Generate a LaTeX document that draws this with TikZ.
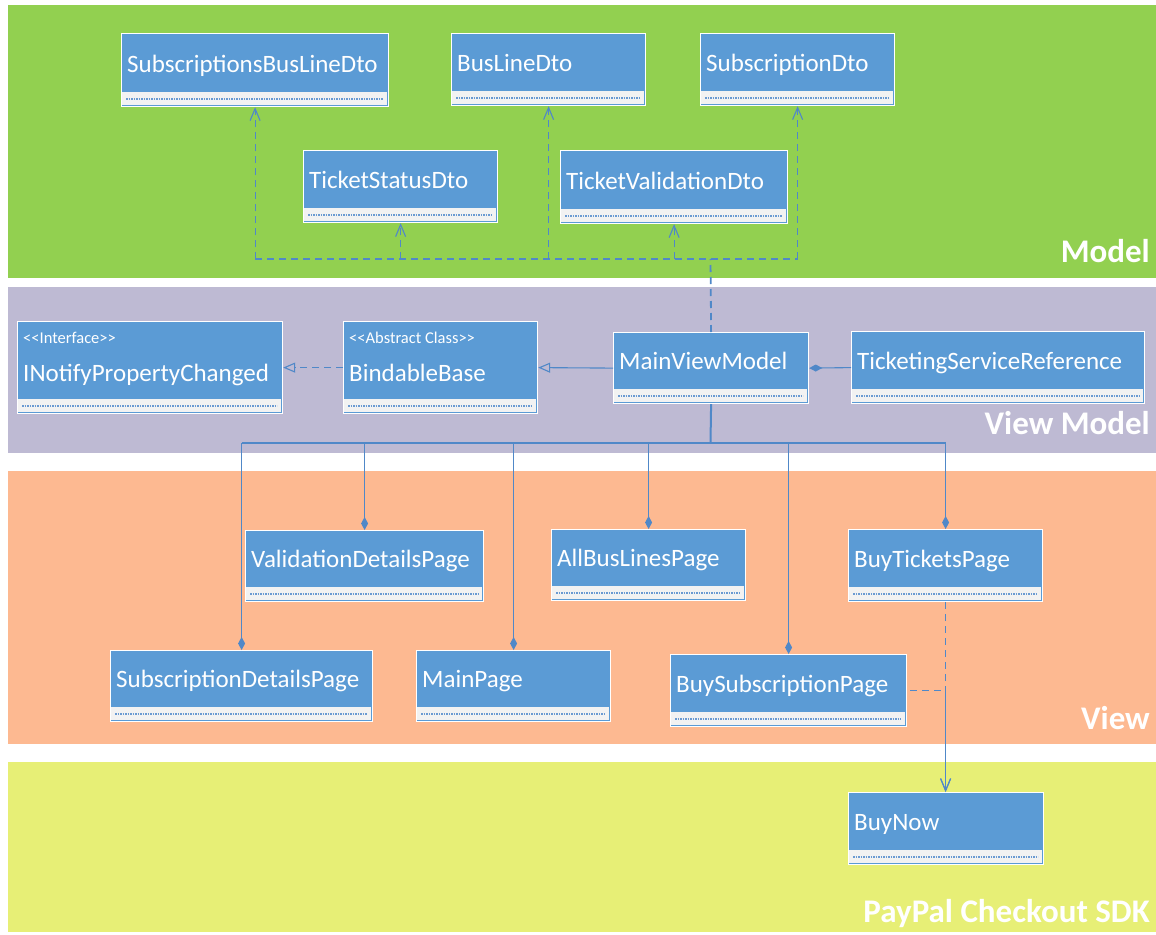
\documentclass[tikz,border=0pt]{standalone}
\usepackage{fontspec}
\newfontfamily\uml{Carlito}
\usetikzlibrary{arrows.meta}
\definecolor{modelc}{HTML}{92D050}
\definecolor{vmc}{HTML}{BEBAD3}
\definecolor{viewc}{HTML}{FDB991}
\definecolor{ppc}{HTML}{E7EF76}
\definecolor{clsblue}{HTML}{5B9BD5}
\definecolor{cmpgray}{HTML}{F2F2F2}
\definecolor{linec}{HTML}{5088C8}
\definecolor{dotc}{HTML}{6A9AD2}
\tikzset{
  layerlbl/.style={anchor=base east, inner sep=0, text=white, font=\uml\bfseries\fontsize{33}{33}\selectfont},
  clsbox/.style={draw=white, line width=1.2pt, fill=clsblue, inner sep=0},
  clsname/.style={anchor=base west, inner sep=0, text=white, font=\uml\fontsize{25}{25}\selectfont},
  stereo/.style={anchor=base west, inner sep=0, text=white, font=\uml\fontsize{16.5}{16.5}\selectfont},
  dotrule/.style={draw=dotc, line width=1.1pt, dash pattern=on 1.6pt off 0.9pt},
  conn/.style={draw=linec, line width=1.1pt},
  connthick/.style={draw=linec, line width=2pt},
  dashconn/.style={conn, dash pattern=on 7pt off 5pt},
  dep/.style={dashconn, -{Straight Barb[length=12pt,width=10pt,line width=1.1pt]}},
  real/.style={dashconn, -{Triangle[open,length=12pt,width=10pt,line width=1.1pt]}},
  gen/.style={conn, -{Triangle[open,length=12pt,width=10pt,line width=1.1pt]}},
  comp/.style={conn, -{Diamond[length=13pt,width=7pt]}},
}
\newcommand{\umlclass}[6]{%
  \node[clsbox, anchor=north west, minimum width={#4-#2}, minimum height={#5-#3}] (#1) at (#2,#3) {};
  \fill[cmpgray] (#2+0.8,#5-14) rectangle (#4-0.8,#5-0.8);
  \draw[dotrule] (#2+5,#5-7) -- (#4-5,#5-7);
  \node[clsname] (#1-name) at (#2+6,#5-34) {#6};
}
\newcommand{\umlsclass}[7]{%
  \node[clsbox, anchor=north west, minimum width={#4-#2}, minimum height={#5-#3}] (#1) at (#2,#3) {};
  \fill[cmpgray] (#2+0.8,#5-14) rectangle (#4-0.8,#5-0.8);
  \draw[dotrule] (#2+5,#5-7) -- (#4-5,#5-7);
  \node[stereo] (#1-st) at (#2+6,#3+22) {#6};
  \node[clsname] (#1-name) at (#2+6,#5-32) {#7};
}
\begin{document}
\begin{tikzpicture}[x=1pt,y=-1pt]
\useasboundingbox (0,0) rectangle (1156,934);
\fill[white] (0,0) rectangle (1156,934);
% layers
\fill[modelc] (8,5) rectangle (1156,278);
\fill[vmc] (8,287) rectangle (1156,453);
\fill[viewc] (8,471) rectangle (1156,744);
\fill[ppc] (8,762) rectangle (1156,932);
\node[layerlbl] (lmodel) at (1150,262) {Model};
\node[layerlbl] (lvm) at (1150,434) {View Model};
\node[layerlbl] (lview) at (1150,729) {View};
\node[layerlbl] (lpp) at (1150,922) {PayPal Checkout SDK};
% model
\umlclass{sbl}{121}{33}{388}{106}{SubscriptionsBusLineDto}
\umlclass{bl}{451}{33}{645}{105}{BusLineDto}
\umlclass{sd}{700}{33}{894}{105}{SubscriptionDto}
\umlclass{tsd}{303}{150}{497}{222}{TicketStatusDto}
\umlclass{tvd}{560}{150}{787}{223}{TicketValidationDto}
% view model
\umlsclass{inpc}{17}{321}{282}{413}{<\kern0pt<Interface>\kern0pt>}{INotifyPropertyChanged}
\umlsclass{bb}{343}{321}{537}{413}{<\kern0pt<Abstract Class>\kern0pt>}{BindableBase}
\umlclass{mvm}{613}{332}{808}{403}{MainViewModel}
\umlclass{tsr}{851}{331}{1144}{403}{TicketingServiceReference}
% view
\umlclass{vdp}{245}{530}{483}{601}{ValidationDetailsPage}
\umlclass{abl}{551}{529}{745}{600}{AllBusLinesPage}
\umlclass{btp}{848}{529}{1042}{601}{BuyTicketsPage}
\umlclass{sdp}{110}{650}{372}{721}{SubscriptionDetailsPage}
\umlclass{mp}{416}{650}{610}{721}{MainPage}
\umlclass{bsp}{670}{654}{906}{726}{BuySubscriptionPage}
% paypal
\umlclass{bn}{848}{792}{1043}{864}{BuyNow}
% model dependencies
\coordinate (jm) at (710.5,259);
\draw[dashconn, line width=1.8pt] (mvm.north) -- (jm);
\draw[dashconn] (sbl.south |- jm) -- (sd.south |- jm);
\draw[dep] (sbl.south |- jm) -- (sbl.south);
\draw[dep] (tsd.south |- jm) -- (tsd.south);
\draw[dep] (bl.south |- jm) -- (bl.south);
\draw[dep] (tvd.south |- jm) -- (tvd.south);
\draw[dep] (sd.south |- jm) -- (sd.south);
% view model relations
\draw[real] (bb.west) -- (inpc.east);
\draw[gen] (mvm.west) -- (bb.east);
\draw[comp] (tsr.west) -- (mvm.east);
% view compositions
\coordinate (jv) at (710.5,443);
\draw[connthick] (mvm.south) -- (jv);
\draw[conn] (sdp.north |- jv) -- (btp.north |- jv);
\draw[comp] (sdp.north |- jv) -- (sdp.north);
\draw[comp] (vdp.north |- jv) -- (vdp.north);
\draw[comp] (mp.north |- jv) -- (mp.north);
\draw[comp] (abl.north |- jv) -- (abl.north);
\draw[comp] (bsp.north |- jv) -- (bsp.north);
\draw[comp] (btp.north |- jv) -- (btp.north);
% paypal dependencies
\coordinate (jb) at (btp.south |- bsp.east);
\draw[dep] (btp.south) -- (bn.north -| btp.south);
\draw[dep, dash phase=9pt] (bsp.east) -- (jb) -- (bn.north -| btp.south);
\end{tikzpicture}
\end{document}
